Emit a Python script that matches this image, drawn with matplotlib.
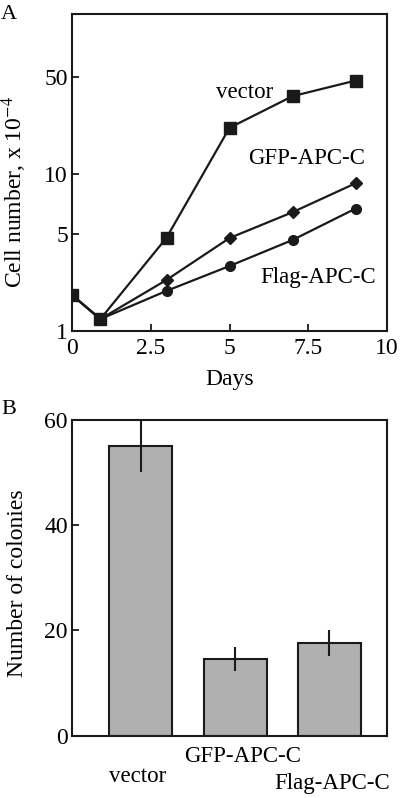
import numpy as np
import matplotlib
matplotlib.use("Agg")
import matplotlib.pyplot as plt

plt.rcParams['font.family'] = ['Liberation Serif', 'DejaVu Serif']
plt.rcParams['mathtext.fontset'] = 'stix'

# panel A data
days = [0, 0.9, 3, 5, 7, 9]
vector_cells = [1.82, 1.22, 4.72, 21.5, 36.4, 47.2]
gfp_cells = [1.82, 1.22, 2.34, 4.7, 6.44, 8.97]
flag_cells = [1.82, 1.22, 1.95, 2.95, 4.55, 6.71]
y_ticks_a = [1, 5, 10, 50]

# panel B data
groups = ['vector', 'GFP-APC-C', 'Flag-APC-C']
colonies = [55, 14.6, 17.6]
colonies_err = [4.8, 2.3, 2.5]

# the y axis of panel A is log-like but the labels sit unevenly; map through them
log_pts = np.log10([1, 5, 10, 50, 143])
pos_pts = np.array([0, 0.305, 0.496, 0.801, 1.0])

def fwd(y):
    ly = np.log10(np.clip(y, 1e-3, None))
    out = np.interp(ly, log_pts, pos_pts)
    lo = ly < log_pts[0]
    out = np.where(lo, pos_pts[0] + (ly - log_pts[0]) * (pos_pts[1] - pos_pts[0]) / (log_pts[1] - log_pts[0]), out)
    hi = ly > log_pts[-1]
    out = np.where(hi, pos_pts[-1] + (ly - log_pts[-1]) * (pos_pts[-1] - pos_pts[-2]) / (log_pts[-1] - log_pts[-2]), out)
    return out

def inv(p):
    ly = np.interp(p, pos_pts, log_pts)
    return 10 ** ly

fig = plt.figure(figsize=(4, 7.98), dpi=100)

ax1 = fig.add_axes([0.18, 0.5852, 0.7875, 0.3972])
ax1.set_yscale('function', functions=(fwd, inv))
lw = 1.6
ax1.plot(days, flag_cells, '-o', color='#1a1a1a', lw=lw, ms=7)
ax1.plot(days, gfp_cells, '-D', color='#1a1a1a', lw=lw, ms=6.5)
ax1.plot(days, vector_cells, '-s', color='#1a1a1a', lw=lw, ms=8.5)
ax1.set_xlim(0, 10)
ax1.set_ylim(1, 143)
ax1.set_yticks(y_ticks_a)
ax1.set_yticklabels([str(t) for t in y_ticks_a])
ax1.yaxis.set_minor_locator(matplotlib.ticker.NullLocator())
ax1.set_xticks([0, 2.5, 5, 7.5, 10])
ax1.set_xticklabels(['0', '2.5', '5', '7.5', '10'])
ax1.set_xlabel('Days', fontsize=17, labelpad=7)
ax1.set_ylabel(r'Cell number, x 10$^{-4}$', fontsize=17)
ax1.yaxis.set_label_coords(-0.138, 0.44)
ax1.text(5.49, 38.6, 'vector', fontsize=16.5, ha='center', va='center')
ax1.text(7.46, 13.0, 'GFP-APC-C', fontsize=16.5, ha='center', va='center')
ax1.text(7.81, 2.45, 'Flag-APC-C', fontsize=16.5, ha='center', va='center')
fig.text(0.003, 0.994, 'A', fontsize=16, va='top', ha='left')

ax2 = fig.add_axes([0.18, 0.0781, 0.7875, 0.3956])
x = np.arange(len(groups))
ax2.bar(x, colonies, width=0.67, color='#b0b0b0', edgecolor='#1a1a1a', linewidth=1.5)
ax2.errorbar(x, colonies, yerr=colonies_err, fmt='none', ecolor='#1a1a1a', elinewidth=1.5, capsize=0)
ax2.set_xlim(-0.73, 2.61)
ax2.set_ylim(0, 60)
ax2.set_yticks([0, 20, 40, 60])
ax2.set_xticks([])
ax2.set_ylabel('Number of colonies', fontsize=17)
ax2.yaxis.set_label_coords(-0.14, 0.484)
label_y = [-0.13, -0.066, -0.151]
label_dx = [-0.03, 0.08, 0.03]
for xi, name, ly, dx in zip(x, groups, label_y, label_dx):
    ax2.text(xi + dx, ly, name, fontsize=16.5, ha='center', va='center',
             transform=ax2.get_xaxis_transform())
fig.text(0.003, 0.499, 'B', fontsize=16, va='top', ha='left')

for ax in (ax1, ax2):
    for s in ax.spines.values():
        s.set_linewidth(1.5)
        s.set_color('#1a1a1a')
    ax.tick_params(direction='in', length=5, width=1.3, labelsize=17,
                   top=False, right=False, color='#1a1a1a')
ax1.tick_params(axis='x', pad=5)
ax1.tick_params(axis='y', pad=3)
ax2.tick_params(axis='y', pad=3)

fig.savefig('out.png', dpi=100)
